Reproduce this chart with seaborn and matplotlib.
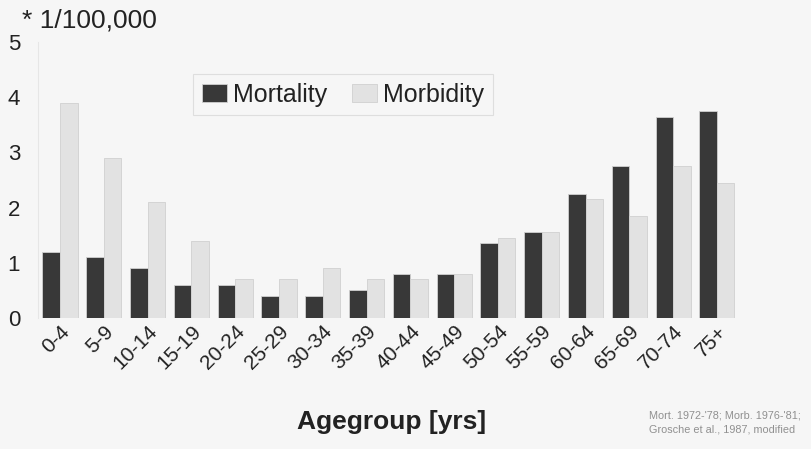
import pandas as pd
import matplotlib
matplotlib.use("Agg")
import matplotlib.pyplot as plt
import seaborn as sns

# age groups and rates (* 1/100,000)
AGEGROUPS = ["0-4", "5-9", "10-14", "15-19", "20-24", "25-29", "30-34", "35-39",
             "40-44", "45-49", "50-54", "55-59", "60-64", "65-69", "70-74", "75+"]
MORTALITY = [1.2, 1.1, 0.9, 0.6, 0.6, 0.4, 0.4, 0.5,
             0.8, 0.8, 1.35, 1.55, 2.25, 2.75, 3.65, 3.75]
MORBIDITY = [3.9, 2.9, 2.1, 1.4, 0.7, 0.7, 0.9, 0.7,
             0.7, 0.8, 1.45, 1.55, 2.15, 1.85, 2.75, 2.45]
Y_TICKS = [0, 1, 2, 3, 4, 5]

BG = "#f6f6f6"
PALETTE = {"Mortality": "#383838", "Morbidity": "#e2e2e2"}

df = pd.DataFrame({
    "age": AGEGROUPS * 2,
    "rate": MORTALITY + MORBIDITY,
    "kind": ["Mortality"] * len(AGEGROUPS) + ["Morbidity"] * len(AGEGROUPS),
})

sns.set_theme(style="white")
plt.rcParams["font.family"] = ["Liberation Sans", "DejaVu Sans"]

fig = plt.figure(figsize=(8.11, 4.49), dpi=100, facecolor=BG)
ax = fig.add_axes([0.047, 0.292, 0.864, 0.614], facecolor=BG)

sns.barplot(data=df, x="age", y="rate", hue="kind", palette=PALETTE,
            order=AGEGROUPS, hue_order=["Mortality", "Morbidity"],
            width=0.8, saturation=1, edgecolor="#d0d0d0", linewidth=0.6,
            ax=ax)

ax.set_xlim(-0.5, len(AGEGROUPS) - 0.5)
ax.set_ylim(0, 5)
ax.set_yticks(Y_TICKS)
ax.set_yticklabels([str(t) for t in Y_TICKS], fontsize=16, color="#222222")
ax.tick_params(axis="y", length=0, pad=13)
ax.tick_params(axis="x", length=0, pad=3)
ax.set_xticks(range(len(AGEGROUPS)))
ax.set_xticklabels(AGEGROUPS, rotation=45, ha="right", rotation_mode="anchor",
                   fontsize=15, color="#222222")
ax.set_xlabel("")
ax.set_ylabel("")
for side in ["top", "right", "bottom"]:
    ax.spines[side].set_visible(False)
ax.spines["left"].set_color("#e6e6e6")
ax.spines["left"].set_linewidth(0.8)

leg = ax.legend(loc="upper left", bbox_to_anchor=(0.221, 0.885), ncol=2,
                fontsize=18, frameon=True, fancybox=False, borderaxespad=0,
                handlelength=1.0, handleheight=0.7, handletextpad=0.25,
                columnspacing=1.0, borderpad=0.35)
leg.get_frame().set_edgecolor("#d8d8d8")
leg.get_frame().set_facecolor(BG)
leg.get_frame().set_linewidth(0.8)
for t in leg.get_texts():
    t.set_color("#222222")

fig.text(0.027, 0.955, "* 1/100,000", fontsize=19, color="#222222",
         ha="left", va="center")
fig.text(0.483, 0.06, "Agegroup [yrs]", fontsize=19, fontweight="bold",
         color="#222222", ha="center", va="center")
fig.text(0.80, 0.06, "Mort. 1972-'78; Morb. 1976-'81;\nGrosche et al., 1987, modified",
         fontsize=7.8, color="#909090", ha="left", va="center", linespacing=1.5)

fig.savefig("out.png", dpi=100, facecolor=BG)
